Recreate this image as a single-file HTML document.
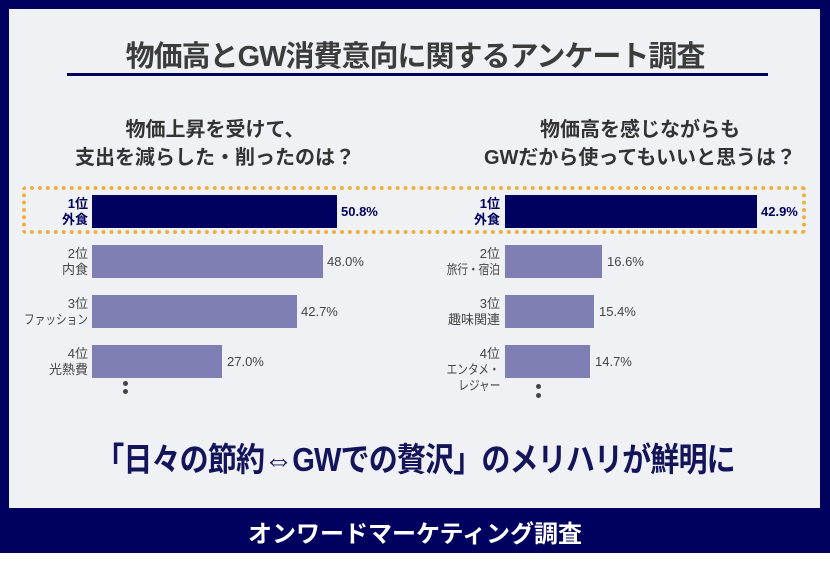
<!DOCTYPE html>
<html><head><meta charset="utf-8"><style>
body{margin:0;width:830px;height:567px;background:#fff;position:relative;overflow:hidden;font-family:"Liberation Sans","Noto Sans CJK JP",sans-serif}
.a{position:absolute}
.bar{position:absolute;height:33px;background:#7f7fb3}
.b1{background:#00005e}
.lab{position:absolute;width:80px;text-align:right;font-size:13px;line-height:16px;color:#444}
.val{position:absolute;font-size:13px;color:#444}
.bold{font-weight:bold;color:#00005e}
.sub{position:absolute;font-size:20px;font-weight:bold;color:#333;text-align:center;line-height:28px}
.dot{position:absolute;width:5px;height:5px;border-radius:50%;background:#444}
.sq{display:inline-block;transform:scaleX(0.82);transform-origin:right}
</style></head><body>
<div class="a" style="left:0;top:0;width:830px;height:553px;background:#00005e"></div>
<div class="a" style="left:9px;top:9px;width:811px;height:499px;background:#f0f1f5"></div>
<div class="a" style="left:0;top:33px;width:830px;text-align:center;font-size:29px;font-weight:bold;color:#3c3c3c;letter-spacing:-1px">物価高とGW消費意向に関するアンケート調査</div>
<div class="a" style="left:67px;top:73px;width:701px;height:3px;background:#00005e"></div>
<div class="sub" style="left:15px;top:116px;width:400px">物価上昇を受けて、<br>支出を減らした・削ったのは？</div>
<div class="sub" style="left:440px;top:116px;width:400px">物価高を感じながらも<br>GWだから使ってもいいと思うは？</div>
<div class="a" style="left:22px;top:186px;width:784px;height:48px;border:4px dotted #f0b040;border-radius:4px;box-sizing:border-box"></div>
<!-- left -->
<div class="bar b1" style="left:92px;top:195px;width:245px"></div>
<div class="bar" style="left:92px;top:245px;width:231px"></div>
<div class="bar" style="left:92px;top:295px;width:205px"></div>
<div class="bar" style="left:92px;top:345px;width:130px"></div>
<div class="lab bold" style="left:8px;top:196px">1位<br>外食</div>
<div class="lab" style="left:8px;top:246px">2位<br>内食</div>
<div class="lab" style="left:8px;top:296px">3位<br><span class="sq">ファッション</span></div>
<div class="lab" style="left:8px;top:346px">4位<br>光熱費</div>
<div class="val bold" style="left:341px;top:204px">50.8%</div>
<div class="val" style="left:327px;top:254px">48.0%</div>
<div class="val" style="left:301px;top:304px">42.7%</div>
<div class="val" style="left:227px;top:354px">27.0%</div>
<div class="dot" style="left:123px;top:381px"></div><div class="dot" style="left:123px;top:389px"></div>
<!-- right -->
<div class="bar b1" style="left:505px;top:195px;width:252px"></div>
<div class="bar" style="left:505px;top:245px;width:97px"></div>
<div class="bar" style="left:505px;top:295px;width:89px"></div>
<div class="bar" style="left:505px;top:345px;width:85px"></div>
<div class="lab bold" style="left:420px;top:196px">1位<br>外食</div>
<div class="lab" style="left:400px;width:100px;top:246px">2位<br><span class="sq">旅行・宿泊</span></div>
<div class="lab" style="left:420px;top:296px">3位<br>趣味関連</div>
<div class="lab" style="left:420px;top:346px">4位<br><span class="sq">エンタメ・</span><br><span class="sq">レジャー</span></div>
<div class="val bold" style="left:761px;top:204px">42.9%</div>
<div class="val" style="left:607px;top:254px">16.6%</div>
<div class="val" style="left:599px;top:304px">15.4%</div>
<div class="val" style="left:595px;top:354px">14.7%</div>
<div class="dot" style="left:536px;top:384px"></div><div class="dot" style="left:536px;top:393px"></div>
<div class="a" style="left:0;top:433px;width:830px;text-align:center;font-size:33px;font-weight:bold;color:#14145a;letter-spacing:-1px;transform:scaleX(0.88)">「日々の節約⇔GWでの贅沢」のメリハリが鮮明に</div>
<div class="a" style="left:0;top:514px;width:830px;text-align:center;font-size:24px;font-weight:bold;color:#fff">オンワードマーケティング調査</div>
</body></html>
